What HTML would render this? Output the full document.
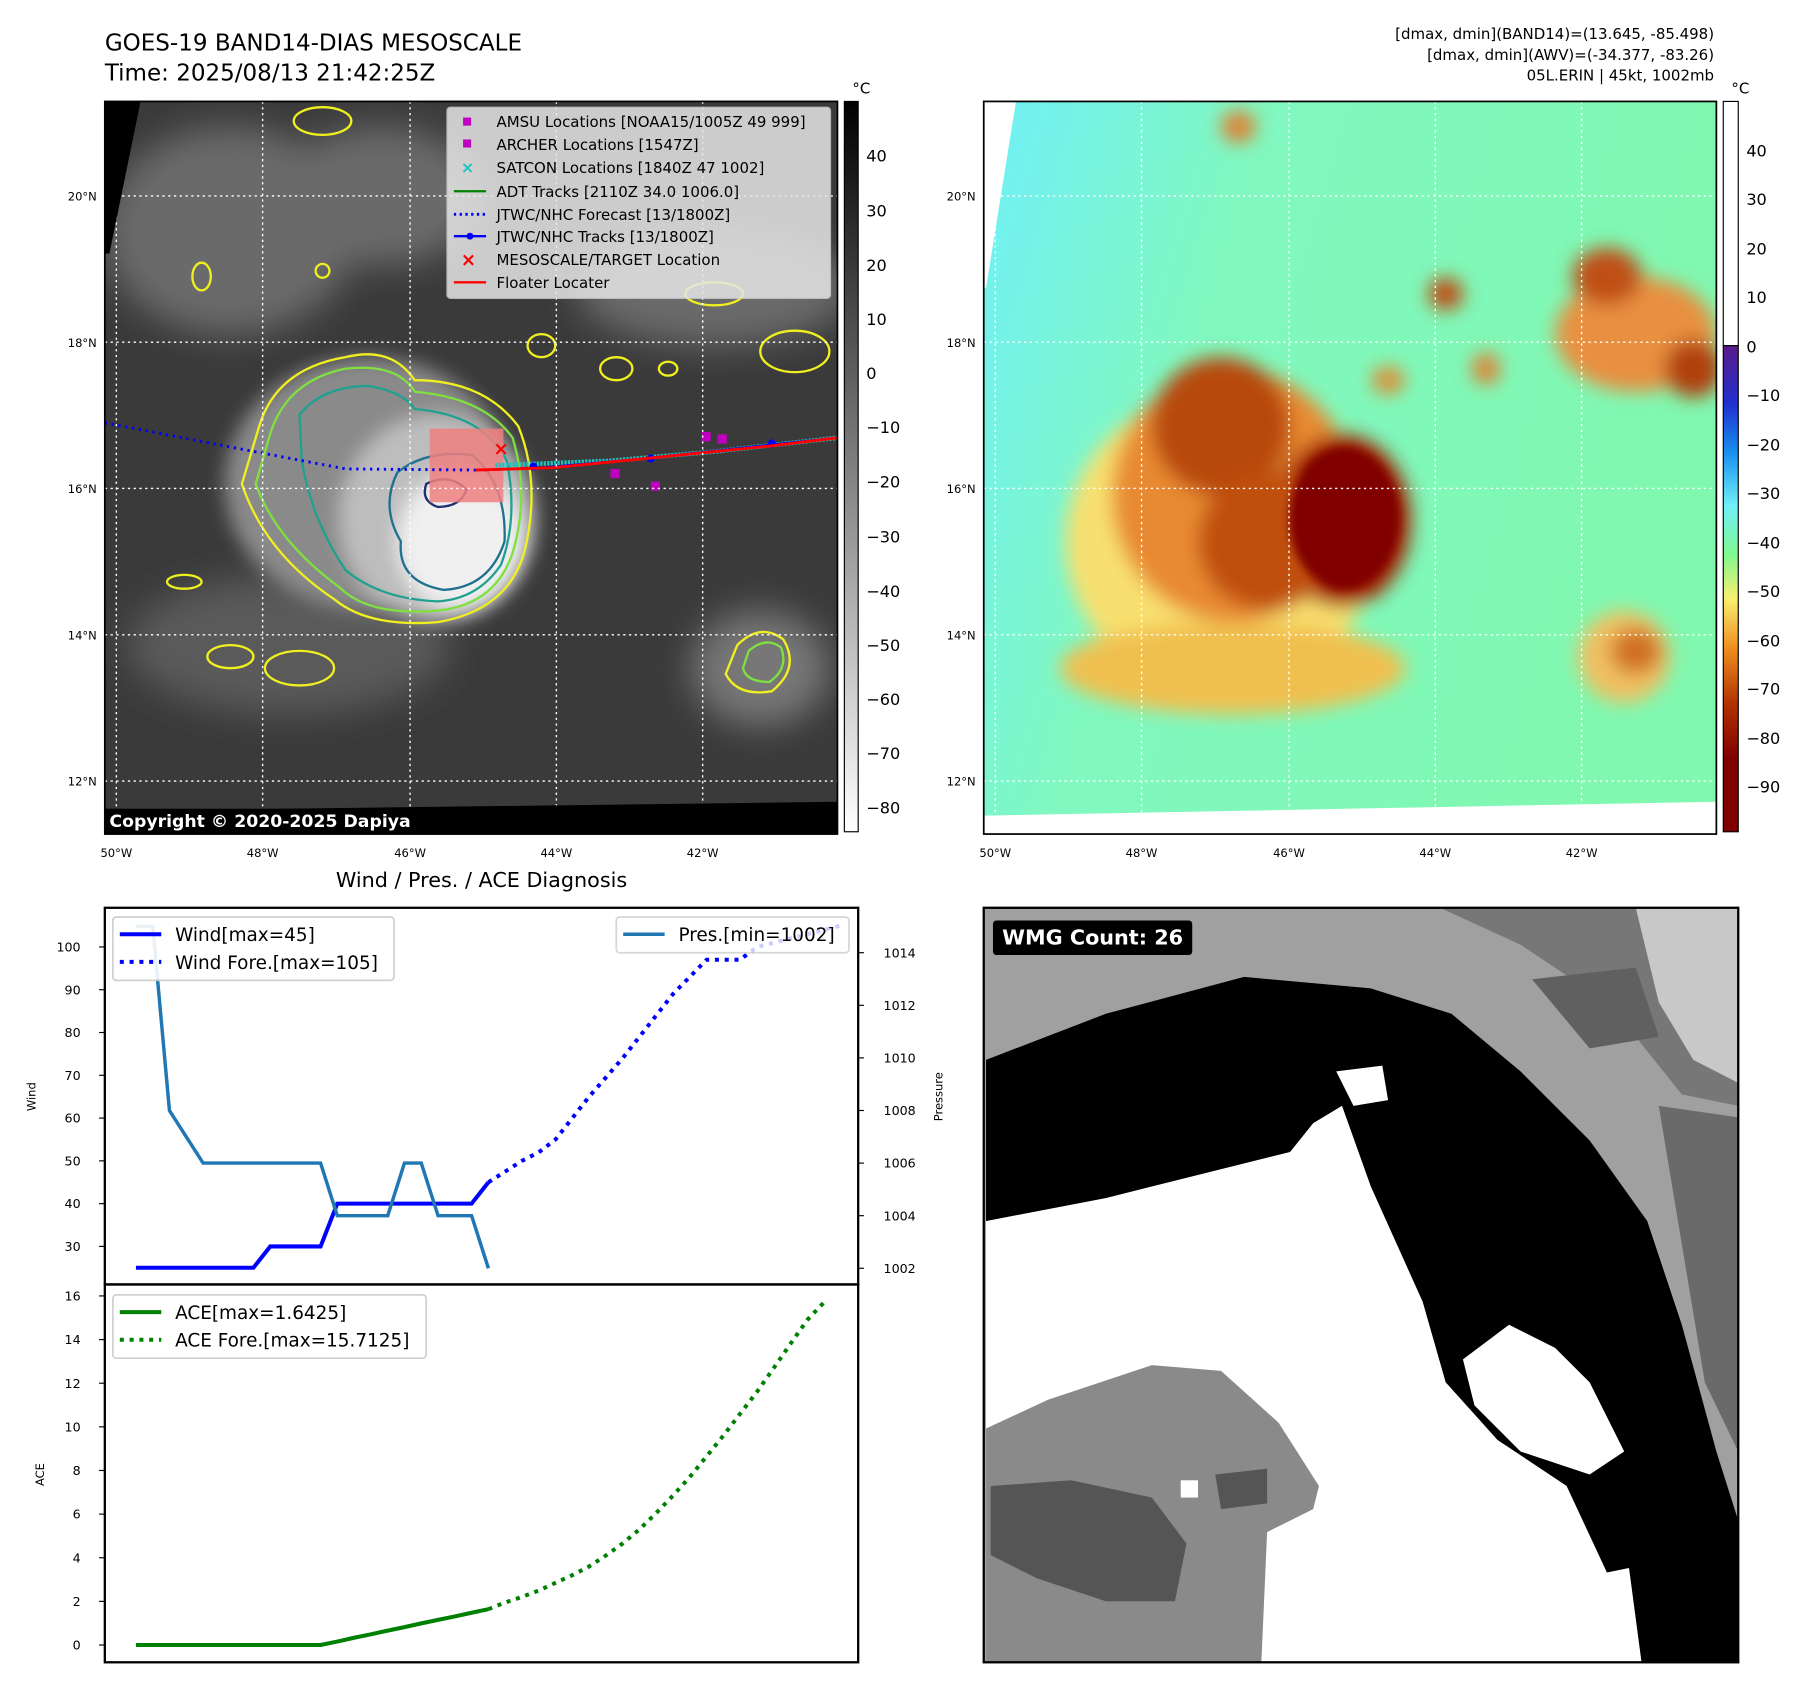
<!DOCTYPE html>
<html><head><meta charset="utf-8"><style>
html,body{margin:0;padding:0;background:#fff;}
svg{display:block;font-family:"DejaVu Sans","Liberation Sans",sans-serif;}
</style></head><body>
<svg id="root" width="1797" height="1690" viewBox="0 0 1560 1467" xmlns="http://www.w3.org/2000/svg">
<defs>
<filter id="blur8"><feGaussianBlur stdDeviation="8"/></filter>
<filter id="blur4"><feGaussianBlur stdDeviation="4"/></filter>
<filter id="blur15"><feGaussianBlur stdDeviation="15"/></filter>
<linearGradient id="cbGray" x1="0" y1="0" x2="0" y2="1"><stop offset="0" stop-color="#000"/><stop offset="1" stop-color="#fff"/></linearGradient>
<linearGradient id="cbColor" x1="0" y1="0" x2="0" y2="1">
<stop offset="0" stop-color="#5a1a8a"/><stop offset="0.12" stop-color="#2030d0"/><stop offset="0.22" stop-color="#1890f0"/><stop offset="0.33" stop-color="#70f0f8"/><stop offset="0.43" stop-color="#80f890"/><stop offset="0.52" stop-color="#f8f070"/><stop offset="0.62" stop-color="#f09020"/><stop offset="0.74" stop-color="#b03000"/><stop offset="0.85" stop-color="#800000"/><stop offset="1" stop-color="#800000"/></linearGradient>
<linearGradient id="rmBg" x1="0" y1="0" x2="1" y2="0.3"><stop offset="0" stop-color="#70f0f8"/><stop offset="0.35" stop-color="#80f8c0"/><stop offset="1" stop-color="#80f8b0"/></linearGradient>
<clipPath id="clipL"><rect x="91" y="88" width="636" height="636"/></clipPath>
<clipPath id="clipR"><rect x="854" y="88" width="636" height="636"/></clipPath>
<clipPath id="clipW"><rect x="91" y="788" width="654" height="327"/></clipPath>
<clipPath id="clipA"><rect x="91" y="1115" width="654" height="328"/></clipPath>
<clipPath id="clipG"><rect x="854" y="788" width="655" height="655"/></clipPath>
</defs>

<!-- titles -->
<text x="91" y="44" font-size="20">GOES-19 BAND14-DIAS MESOSCALE</text>
<text x="91" y="70" font-size="20">Time: 2025/08/13 21:42:25Z</text>
<g font-size="13" text-anchor="end">
<text x="1488" y="34">[dmax, dmin](BAND14)=(13.645, -85.498)</text>
<text x="1488" y="52">[dmax, dmin](AWV)=(-34.377, -83.26)</text>
<text x="1488" y="70">05L.ERIN | 45kt, 1002mb</text>
</g>

<!-- LEFT MAP -->
<g clip-path="url(#clipL)">
<rect x="91" y="88" width="636" height="636" fill="#3a3a3a"/>
<g filter="url(#blur15)" fill="#6a6a6a">
<ellipse cx="200" cy="200" rx="110" ry="90"/><ellipse cx="330" cy="170" rx="90" ry="60"/><ellipse cx="620" cy="250" rx="120" ry="50"/>
<ellipse cx="250" cy="560" rx="140" ry="60" fill="#5a5a5a"/><ellipse cx="660" cy="580" rx="60" ry="50" fill="#777"/>
</g>
<g filter="url(#blur8)">
<ellipse cx="320" cy="420" rx="125" ry="110" fill="#8a8a8a"/>
<ellipse cx="380" cy="450" rx="85" ry="90" fill="#bdbdbd"/>
<ellipse cx="400" cy="470" rx="55" ry="60" fill="#f0f0f0"/>
</g>
<g fill="none" stroke-width="2">
<path d="M225,370 Q240,320 300,310 Q340,300 360,330 Q420,330 450,370 Q470,420 455,480 Q440,530 380,540 Q320,545 290,520 Q230,480 210,420 Z" stroke="#f0f020"/>
<path d="M235,375 Q250,330 300,320 Q345,315 360,340 Q420,345 445,380 Q460,430 445,480 Q430,525 380,530 Q320,535 295,510 Q240,470 222,420 Z" stroke="#80e040"/>
<path d="M260,360 Q280,335 320,335 Q350,340 360,355 Q420,360 440,400 Q450,450 435,490 Q415,520 380,522 Q330,520 300,495 Q270,450 262,400 Z" stroke="#20a090"/>
<path d="M345,410 Q370,390 410,395 Q440,420 438,470 Q425,510 385,512 Q345,505 348,470 Q330,440 345,410 Z" stroke="#207090"/>
<path d="M370,420 Q390,410 405,425 Q400,440 380,440 Q365,435 370,420Z" stroke="#203070"/>
<path d="M640,560 Q660,540 680,555 Q695,580 670,600 Q640,605 630,585Z" stroke="#f0f020"/>
<path d="M650,565 Q665,552 678,562 Q685,580 668,592 Q648,592 645,580Z" stroke="#80e040"/>
</g>
<g fill="none" stroke="#f0f020" stroke-width="2">
<ellipse cx="280" cy="105" rx="25" ry="12"/><ellipse cx="470" cy="300" rx="12" ry="10"/><ellipse cx="535" cy="320" rx="14" ry="10"/>
<ellipse cx="690" cy="305" rx="30" ry="18"/><ellipse cx="175" cy="240" rx="8" ry="12"/><ellipse cx="280" cy="235" rx="6" ry="6"/>
<ellipse cx="200" cy="570" rx="20" ry="10"/><ellipse cx="260" cy="580" rx="30" ry="15"/><ellipse cx="160" cy="505" rx="15" ry="6"/>
<ellipse cx="620" cy="255" rx="25" ry="10"/><ellipse cx="580" cy="320" rx="8" ry="6"/>
</g>
<rect x="373" y="372" width="64" height="64" fill="#f08080" opacity="0.85"/>
<polyline points="91,367 200,388 300,407 413,408" fill="none" stroke="#0000ff" stroke-width="2.5" stroke-dasharray="2,4"/>
<polyline points="430,404 530,400 620,392 727,380" fill="none" stroke="#20c0c0" stroke-width="4" stroke-dasharray="2,1"/>
<polyline points="420,408 470,406 560,398 670,386 727,380" fill="none" stroke="#0000ff" stroke-width="2"/>
<g fill="#0000ff"><circle cx="463" cy="405" r="3.5"/><circle cx="565" cy="398" r="3.5"/><circle cx="670" cy="385" r="3.5"/></g>
<polyline points="413,408 480,406 560,398 670,387 727,380" fill="none" stroke="#ff0000" stroke-width="2.5"/>
<g fill="#c000c0"><rect x="609" y="375" width="8" height="8"/><rect x="623" y="377" width="8" height="8"/><rect x="530" y="407" width="8" height="8"/><rect x="565" y="418" width="8" height="8"/></g>
<text x="435" y="395" fill="#ff0000" font-size="16" text-anchor="middle" font-weight="bold">×</text>
<g stroke="#fff" stroke-width="1.2" stroke-dasharray="2,3">
<line x1="91" y1="170" x2="727" y2="170"/><line x1="91" y1="297" x2="727" y2="297"/><line x1="91" y1="424" x2="727" y2="424"/><line x1="91" y1="551" x2="727" y2="551"/><line x1="91" y1="678" x2="727" y2="678"/>
<line x1="101" y1="88" x2="101" y2="724"/><line x1="228" y1="88" x2="228" y2="724"/><line x1="356" y1="88" x2="356" y2="724"/><line x1="483" y1="88" x2="483" y2="724"/><line x1="610" y1="88" x2="610" y2="724"/>
</g>
<polygon points="91,88 122,88 95,220 91,220" fill="#000"/>
<polygon points="91,704 727,696 727,724 91,724" fill="#000"/>
<rect x="91" y="702" width="270" height="22" fill="#000"/>
<text x="95" y="718" fill="#fff" font-size="15" font-weight="bold">Copyright © 2020-2025 Dapiya</text>
</g>
<rect x="91" y="88" width="636" height="636" fill="none" stroke="#000" stroke-width="1.5"/>
<!-- legend -->
<g>
<rect x="388" y="93" width="333" height="166" rx="3" fill="#e6e6e6" opacity="0.85" stroke="#ccc"/>
<g font-size="13">
<rect x="402" y="102" width="7" height="7" fill="#c000c0"/><text x="431" y="110">AMSU Locations [NOAA15/1005Z 49 999]</text>
<rect x="402" y="121" width="7" height="7" fill="#c000c0"/><text x="431" y="130">ARCHER Locations [1547Z]</text>
<text x="400" y="150" fill="#20c0c0" font-size="14" font-weight="bold">×</text><text x="431" y="150">SATCON Locations [1840Z 47 1002]</text>
<line x1="394" y1="166" x2="422" y2="166" stroke="#008000" stroke-width="2"/><text x="431" y="171">ADT Tracks [2110Z 34.0 1006.0]</text>
<line x1="394" y1="186" x2="422" y2="186" stroke="#0000ff" stroke-width="2.5" stroke-dasharray="2,3"/><text x="431" y="191">JTWC/NHC Forecast [13/1800Z]</text>
<line x1="394" y1="205" x2="422" y2="205" stroke="#0000ff" stroke-width="2"/><circle cx="408" cy="205" r="3" fill="#0000ff"/><text x="431" y="210">JTWC/NHC Tracks [13/1800Z]</text>
<text x="400" y="231" fill="#ff0000" font-size="16" font-weight="bold">×</text><text x="431" y="230">MESOSCALE/TARGET Location</text>
<line x1="394" y1="245" x2="422" y2="245" stroke="#ff0000" stroke-width="2"/><text x="431" y="250">Floater Locater</text>
</g></g>
<!-- left colorbar -->
<rect x="733" y="88" width="12" height="634" fill="url(#cbGray)" stroke="#000" stroke-width="1"/>
<text x="740" y="81" font-size="13">°C</text>
<g font-size="14">
<text x="752" y="140">40</text><text x="752" y="188">30</text><text x="752" y="235">20</text><text x="752" y="282">10</text><text x="752" y="329">0</text><text x="752" y="376">−10</text><text x="752" y="423">−20</text><text x="752" y="471">−30</text><text x="752" y="518">−40</text><text x="752" y="565">−50</text><text x="752" y="612">−60</text><text x="752" y="659">−70</text><text x="752" y="706">−80</text>
</g>
<g font-size="10">
<text x="84" y="174" text-anchor="end">20°N</text><text x="84" y="301" text-anchor="end">18°N</text><text x="84" y="428" text-anchor="end">16°N</text><text x="84" y="555" text-anchor="end">14°N</text><text x="84" y="682" text-anchor="end">12°N</text>
<g text-anchor="middle"><text x="101" y="744">50°W</text><text x="228" y="744">48°W</text><text x="356" y="744">46°W</text><text x="483" y="744">44°W</text><text x="610" y="744">42°W</text></g>
</g>

<!-- RIGHT MAP -->
<g clip-path="url(#clipR)">
<rect x="854" y="88" width="636" height="636" fill="url(#rmBg)"/>
<polygon points="854,88 882,88 856,250 854,250" fill="#fff"/>
<polygon points="854,708 1490,696 1490,724 854,724" fill="#fff"/>
<g filter="url(#blur8)">
<ellipse cx="1060" cy="470" rx="135" ry="130" fill="#f8e070"/>
<ellipse cx="1070" cy="580" rx="150" ry="40" fill="#f0c050"/>
<ellipse cx="1070" cy="430" rx="105" ry="110" fill="#e88a30"/>
<ellipse cx="1060" cy="370" rx="60" ry="60" fill="#b84810"/>
<ellipse cx="1165" cy="452" rx="60" ry="75" fill="#a02000"/>
<ellipse cx="1100" cy="470" rx="60" ry="60" fill="#c05010"/>
<ellipse cx="1420" cy="290" rx="70" ry="50" fill="#e89040"/>
<ellipse cx="1395" cy="240" rx="30" ry="25" fill="#c05018"/>
<ellipse cx="1470" cy="320" rx="25" ry="25" fill="#b04010"/>
<ellipse cx="1410" cy="570" rx="40" ry="40" fill="#f0c060"/>
<ellipse cx="1420" cy="565" rx="22" ry="20" fill="#d07020"/>
<ellipse cx="1255" cy="255" rx="15" ry="14" fill="#c04810"/>
<ellipse cx="1075" cy="110" rx="15" ry="14" fill="#e08030"/>
<ellipse cx="1290" cy="320" rx="12" ry="14" fill="#e08030"/>
<ellipse cx="1205" cy="330" rx="14" ry="12" fill="#e08a30"/>
</g>
<ellipse cx="1167" cy="450" rx="48" ry="62" fill="#800000" filter="url(#blur4)"/>
<g stroke="#fff" stroke-width="1.2" stroke-dasharray="2,3">
<line x1="854" y1="170" x2="1490" y2="170"/><line x1="854" y1="297" x2="1490" y2="297"/><line x1="854" y1="424" x2="1490" y2="424"/><line x1="854" y1="551" x2="1490" y2="551"/><line x1="854" y1="678" x2="1490" y2="678"/>
<line x1="864" y1="88" x2="864" y2="724"/><line x1="991" y1="88" x2="991" y2="724"/><line x1="1119" y1="88" x2="1119" y2="724"/><line x1="1246" y1="88" x2="1246" y2="724"/><line x1="1373" y1="88" x2="1373" y2="724"/>
</g>
</g>
<rect x="854" y="88" width="636" height="636" fill="none" stroke="#000" stroke-width="1.5"/>
<rect x="1496" y="88" width="13" height="212" fill="#fff" stroke="#000" stroke-width="1"/>
<rect x="1496" y="300" width="13" height="422" fill="url(#cbColor)" stroke="#000" stroke-width="1"/>
<text x="1503" y="81" font-size="13">°C</text>
<g font-size="14">
<text x="1516" y="136">40</text><text x="1516" y="178">30</text><text x="1516" y="221">20</text><text x="1516" y="263">10</text><text x="1516" y="306">0</text><text x="1516" y="348">−10</text><text x="1516" y="391">−20</text><text x="1516" y="433">−30</text><text x="1516" y="476">−40</text><text x="1516" y="518">−50</text><text x="1516" y="561">−60</text><text x="1516" y="603">−70</text><text x="1516" y="646">−80</text><text x="1516" y="688">−90</text>
</g>
<g font-size="10">
<text x="847" y="174" text-anchor="end">20°N</text><text x="847" y="301" text-anchor="end">18°N</text><text x="847" y="428" text-anchor="end">16°N</text><text x="847" y="555" text-anchor="end">14°N</text><text x="847" y="682" text-anchor="end">12°N</text>
<g text-anchor="middle"><text x="864" y="744">50°W</text><text x="991" y="744">48°W</text><text x="1119" y="744">46°W</text><text x="1246" y="744">44°W</text><text x="1373" y="744">42°W</text></g>
</g>

<!-- WIND / PRES / ACE -->
<text x="418" y="770" font-size="18" text-anchor="middle">Wind / Pres. / ACE Diagnosis</text>
<g id="windPanel"></g>
<g id="acePanel"></g>

<!-- WMG -->
<g clip-path="url(#clipG)">
<rect x="854" y="788" width="655" height="655" fill="#a0a0a0"/>
<polygon points="1250,788 1509,788 1509,960 1460,950 1420,900 1380,860 1320,820" fill="#777"/>
<polygon points="1420,788 1509,788 1509,940 1470,920 1440,870" fill="#c8c8c8"/>
<polygon points="1330,850 1420,840 1440,900 1380,910" fill="#606060"/>
<polygon points="1440,960 1509,970 1509,1260 1480,1200 1460,1080" fill="#6a6a6a"/>
<polygon points="856,920 960,880 1080,848 1190,858 1260,880 1320,930 1380,990 1430,1060 1460,1150 1490,1260 1509,1320 1509,1443 1425,1443 1410,1330 1360,1290 1300,1250 1255,1200 1235,1130 1190,1030 1165,960 1140,975 1120,1000 1000,1030 960,1040 856,1060" fill="#000"/>
<polygon points="856,1060 960,1040 1000,1030 1120,1000 1140,975 1165,960 1190,1030 1235,1130 1255,1200 1300,1250 1360,1290 1410,1330 1425,1443 856,1443" fill="#fff"/>
<polygon points="1270,1180 1310,1150 1350,1170 1380,1200 1410,1260 1380,1280 1320,1260 1280,1220" fill="#fff"/>
<polygon points="1360,1290 1400,1280 1420,1360 1395,1365" fill="#000"/>
<polygon points="1160,930 1200,925 1205,955 1175,960" fill="#fff"/>
<polygon points="856,1240 910,1215 1000,1185 1060,1190 1110,1235 1145,1290 1140,1310 1100,1330 1095,1443 856,1443" fill="#8a8a8a"/>
<polygon points="860,1290 930,1285 1000,1300 1030,1340 1020,1390 960,1390 900,1370 860,1350" fill="#555"/>
<polygon points="1055,1280 1100,1275 1100,1305 1060,1310" fill="#555"/>
<rect x="1025" y="1285" width="15" height="15" fill="#fff"/>
<rect x="862" y="799" width="173" height="30" rx="3" fill="#000"/>
<text x="870" y="820" fill="#fff" font-size="18" font-weight="bold">WMG Count: 26</text>
</g>
<rect x="854" y="788" width="655" height="655" fill="none" stroke="#000" stroke-width="2"/>
</svg>
<script>
const windObs = [25,25,25,25,25,25,25,25,30,30,30,30,40,40,40,40,40,40,40,40,40,45];
const windFore = [45,47.5,50,52,55,60,65,69.5,74,79,84,89,93,97,97,97,100,101,102,103,104,105];
const presObs = [1015,1015,1008,1007,1006,1006,1006,1006,1006,1006,1006,1006,1004,1004,1004,1004,1006,1006,1004,1004,1004,1002];
const aceObs = [0,0,0,0,0,0,0,0,0,0,0,0,0.16,0.33,0.49,0.66,0.82,0.99,1.15,1.31,1.48,1.6425];
const aceFore = [1.6425,1.95,2.2,2.5,2.85,3.2,3.6,4.1,4.65,5.3,6.05,6.85,7.7,8.65,9.6,10.6,11.6,12.7,13.8,14.9,15.71];
const windTicks = [30,40,50,60,70,80,90,100];
const presTicks = [1002,1004,1006,1008,1010,1012,1014];
const aceTicks = [0,2,4,6,8,10,12,14,16];

const NS = 'http://www.w3.org/2000/svg';
const xOf = i => 118 + i * 14.57;
const yWind = v => 822 + (100 - v) * 3.714;
const yPres = p => 827 + (1014 - p) * 22.83;
const yAce = a => 1428 - a * 18.94;
function mk(tag, attrs, parent) {
  const e = document.createElementNS(NS, tag);
  for (const k in attrs) e.setAttribute(k, attrs[k]);
  parent.appendChild(e);
  return e;
}
function pts(arr, off, yf) { return arr.map((v, i) => xOf(i + off).toFixed(1) + ',' + yf(v).toFixed(1)).join(' '); }

const wp = document.getElementById('windPanel');
const ap = document.getElementById('acePanel');
const obsN = windObs.length - 1;

// wind panel
const gW = mk('g', {'clip-path': 'url(#clipW)'}, wp);
let l = mk('polyline', {points: pts(windObs, 0, yWind), fill: 'none', stroke: '#0000ff', 'stroke-width': 3.5}, gW);


l = mk('polyline', {points: pts(windFore, obsN, yWind), fill: 'none', stroke: '#0000ff', 'stroke-width': 3.5, 'stroke-dasharray': '3.5,5'}, gW);


l = mk('polyline', {points: pts(presObs, 0, yPres), fill: 'none', stroke: '#1f77b4', 'stroke-width': 3}, gW);


let r = mk('rect', {x: 91, y: 788, width: 654, height: 327, fill: 'none', stroke: '#000', 'stroke-width': 2}, wp);


windTicks.forEach(v => {
  const y = yWind(v);
  mk('line', {x1: 86, x2: 91, y1: y, y2: y, stroke: '#000'}, wp);
  const t = mk('text', {x: 70, y: y + 4, 'font-size': 11, 'text-anchor': 'end'}, wp);
  t.textContent = v;
  
  
});
presTicks.forEach(v => {
  const y = yPres(v);
  mk('line', {x1: 745, x2: 750, y1: y, y2: y, stroke: '#000'}, wp);
  const t = mk('text', {x: 767, y: y + 4, 'font-size': 11}, wp);
  t.textContent = v;
  
  
});
let t = mk('text', {x: 31, y: 952, 'font-size': 10, 'text-anchor': 'middle', transform: 'rotate(-90 31 952)'}, wp);
t.textContent = 'Wind';


t = mk('text', {x: 818, y: 952, 'font-size': 10, 'text-anchor': 'middle', transform: 'rotate(-90 818 952)'}, wp);
t.textContent = 'Pressure';


// wind legend
let lg = mk('g', {}, wp);


mk('rect', {x: 98, y: 796, width: 244, height: 55, rx: 3, fill: '#fff', opacity: 0.9, stroke: '#ccc', 'stroke-width': 1.5}, lg);
mk('line', {x1: 104, x2: 140, y1: 811, y2: 811, stroke: '#0000ff', 'stroke-width': 3.5}, lg);
mk('line', {x1: 104, x2: 140, y1: 835, y2: 835, stroke: '#0000ff', 'stroke-width': 3.5, 'stroke-dasharray': '3.5,5'}, lg);
t = mk('text', {x: 152, y: 817, 'font-size': 16}, lg); t.textContent = 'Wind[max=45]';
t = mk('text', {x: 152, y: 841, 'font-size': 16}, lg); t.textContent = 'Wind Fore.[max=105]';
lg = mk('g', {}, wp);


mk('rect', {x: 535, y: 796, width: 202, height: 31, rx: 3, fill: '#fff', opacity: 0.8, stroke: '#ccc', 'stroke-width': 1.5}, lg);
mk('line', {x1: 541, x2: 577, y1: 811, y2: 811, stroke: '#1f77b4', 'stroke-width': 3}, lg);
t = mk('text', {x: 589, y: 817, 'font-size': 16}, lg); t.textContent = 'Pres.[min=1002]';

// ace panel
const gA = mk('g', {'clip-path': 'url(#clipA)'}, ap);
l = mk('polyline', {points: pts(aceObs, 0, yAce), fill: 'none', stroke: '#008000', 'stroke-width': 3.5}, gA);


l = mk('polyline', {points: pts(aceFore, obsN, yAce), fill: 'none', stroke: '#008000', 'stroke-width': 3.5, 'stroke-dasharray': '3.5,5'}, gA);


r = mk('rect', {x: 91, y: 1115, width: 654, height: 328, fill: 'none', stroke: '#000', 'stroke-width': 2}, ap);


aceTicks.forEach(v => {
  const y = yAce(v);
  mk('line', {x1: 86, x2: 91, y1: y, y2: y, stroke: '#000'}, ap);
  const tt = mk('text', {x: 70, y: y + 4, 'font-size': 11, 'text-anchor': 'end'}, ap);
  tt.textContent = v;
  
  
});
t = mk('text', {x: 38, y: 1280, 'font-size': 10, 'text-anchor': 'middle', transform: 'rotate(-90 38 1280)'}, ap);
t.textContent = 'ACE';


lg = mk('g', {}, ap);


mk('rect', {x: 98, y: 1124, width: 272, height: 55, rx: 3, fill: '#fff', opacity: 0.9, stroke: '#ccc', 'stroke-width': 1.5}, lg);
mk('line', {x1: 104, x2: 140, y1: 1139, y2: 1139, stroke: '#008000', 'stroke-width': 3.5}, lg);
mk('line', {x1: 104, x2: 140, y1: 1163, y2: 1163, stroke: '#008000', 'stroke-width': 3.5, 'stroke-dasharray': '3.5,5'}, lg);
t = mk('text', {x: 152, y: 1145, 'font-size': 16}, lg); t.textContent = 'ACE[max=1.6425]';
t = mk('text', {x: 152, y: 1169, 'font-size': 16}, lg); t.textContent = 'ACE Fore.[max=15.7125]';
</script>
</body></html>
